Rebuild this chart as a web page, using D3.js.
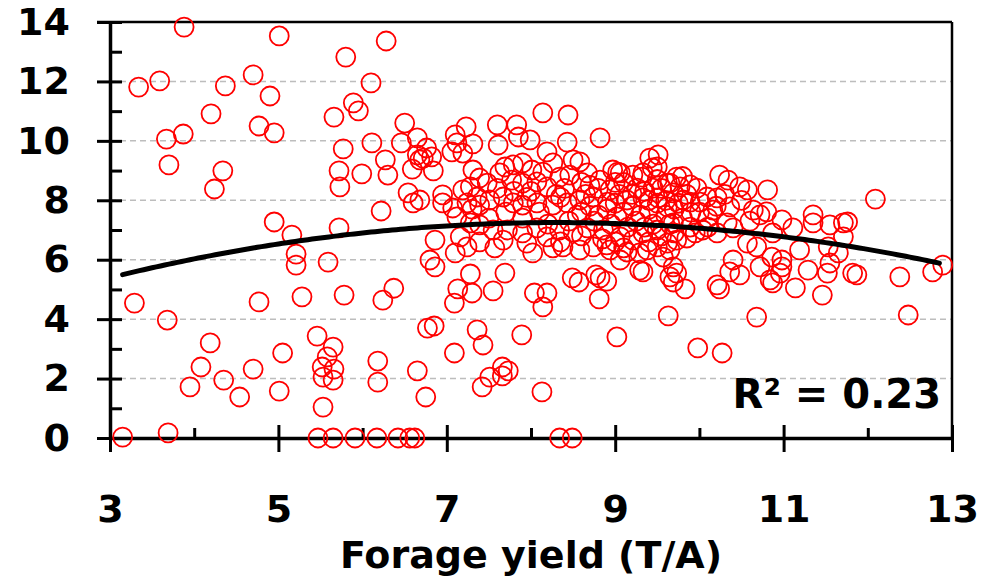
<!DOCTYPE html>
<html lang="en">
<head>
<meta charset="UTF-8">
<title>Forage yield scatter</title>
<script src="https://d3js.org/d3.v7.min.js"></script>
<style>
  body { margin: 0; background: #fff; }
  text { font-family: "DejaVu Sans", Verdana, sans-serif; font-weight: bold; fill: #000; }
</style>
</head>
<body>
<div id="chart"></div>
<script>
// [forage yield, response] pairs
const points = [
  // sparse left part
  [3.88,13.83],[5.01,13.53],[6.28,13.36],[5.80,12.82],[3.59,12.02],[3.34,11.81],[4.37,11.85],[4.70,12.22],
  [6.10,11.95],[4.90,11.51],[5.89,11.28],[5.95,11.01],[5.66,10.80],[4.20,10.91],[4.77,10.50],[4.95,10.27],
  [3.67,10.06],[3.87,10.23],[3.70,9.19],[4.34,8.99],[4.24,8.38],[5.77,9.73],[6.11,9.93],[6.27,9.36],
  [5.72,8.99],[5.99,8.89],[6.30,8.85],[5.73,8.45],[6.22,7.64],[4.95,7.27],[5.16,6.83],[5.72,7.07],
  [6.50,10.60],[6.46,9.93],[5.21,6.19],[5.21,5.82],[5.59,5.92],[3.29,4.54],[3.68,3.97],[4.77,4.58],
  [5.28,4.75],[5.78,4.81],[6.24,4.64],[6.37,5.04],[4.19,3.20],[4.08,2.39],[3.95,1.72],[4.35,1.95],
  [4.54,1.38],[4.70,2.32],[5.05,2.86],[5.01,1.58],[5.46,3.43],[5.65,3.06],[5.58,2.73],[5.52,2.39],
  [5.66,2.32],[5.53,2.05],[5.65,1.95],[5.53,1.04],[6.18,2.59],[6.18,1.88],[3.15,0.03],[3.69,0.17],
  [5.47,0],[5.65,0],[5.91,0],[6.17,0],[6.42,0],[6.56,0],[6.62,0],[8.34,0],[8.49,0],
  // lower middle
  [7.09,2.86],[6.65,2.26],[6.75,1.38],[7.42,1.72],[7.51,2.05],[7.66,2.39],[7.66,2.09],[7.73,2.26],
  [8.13,1.55],[7.36,3.64],[7.43,3.13],[7.89,3.47],[7.09,4.54],[7.13,5.02],[7.30,4.88],[7.55,4.95],
  [8.04,4.88],[8.19,4.88],[8.14,4.41],[8.49,5.39],[8.57,5.25],[8.77,5.49],[8.82,5.39],[8.90,5.28],
  [8.81,4.68],[9.02,3.40],[9.63,4.11],[7.28,5.52],[7.69,5.55],[6.86,5.76],[6.80,5.99],[6.77,3.70],[6.85,3.77],
  // lower right
  [9.98,3.03],[10.27,2.86],[10.68,4.07],[12.48,4.14],[11.46,4.81],[11.14,5.05],[10.87,5.22],[10.84,5.32],
  [9.83,5.02],[9.69,5.25],[10.24,5.02],[10.21,5.15],[10.36,5.59],[10.48,5.49],[10.72,5.76],[10.98,5.76],
  [11.29,5.65],[11.52,5.55],[11.82,5.55],[11.87,5.49],[12.77,5.59],[12.89,5.82],[12.38,5.42],
  // upper right
  [12.09,8.04],[11.71,7.24],[11.76,7.27],[11.55,7.17],[11.35,7.51],[11.35,7.24],[11.11,7.07],[11.19,6.33],
  [11.71,6.77],[11.53,6.43],[11.65,6.23],[11.55,5.89],[10.98,7.34],[10.87,6.90],[10.68,6.43],[10.57,6.56],
  [10.40,5.99],[10.86,6.09],[10.98,5.99],[10.96,5.55],[10.64,7.67],[10.72,7.51],[10.80,7.61],[10.81,8.35],
  [10.57,8.35],[10.48,8.45],[10.34,8.68],[10.24,8.85],[10.16,7.67],[10.36,7.78],[10.33,7.24],[10.40,7.07],
  [10.21,6.90],[10.04,7.00],[10.21,8.08],[10.09,8.11],[10.01,7.94],[9.89,7.94],[9.81,8.01],[9.97,8.41],
  [9.89,8.52],[9.77,8.45],[9.69,8.25],[9.62,8.58],[9.62,7.78],[9.51,8.08],[9.45,8.41],[9.33,8.08],
  [9.14,8.01],[9.26,8.41],[9.32,8.78],[9.44,9.09],[9.51,9.53],[9.41,9.42],[9.03,8.95],[8.94,8.35],
  [8.91,7.94],[9.02,7.44],[8.82,10.10],[9.89,7.10],[9.69,7.24],[9.50,7.00],[9.33,6.90],[9.21,6.66],
  [9.06,6.77],[8.94,6.33],[9.06,5.99],[9.29,5.65],[9.38,6.33],[9.62,6.56],[9.73,6.66],[9.85,6.73],
  [9.57,6.09],[9.69,5.76],[9.73,5.55],
  // central cluster
  [6.65,10.10],[6.76,9.76],[6.65,9.53],[6.72,9.42],[6.68,9.36],[6.82,9.46],[6.59,9.05],[6.84,8.99],
  [6.54,8.25],[6.68,8.01],[6.60,7.91],[6.95,8.18],[7.10,10.20],[7.23,10.47],[7.12,9.93],[7.31,9.90],
  [7.19,9.59],[7.06,9.63],[7.60,10.54],[7.83,10.54],[7.85,10.13],[7.99,10.03],[7.61,9.86],[8.14,10.94],
  [8.44,10.87],[8.43,9.96],[8.19,9.63],[7.31,9.02],[7.39,8.75],[7.28,8.45],[7.48,8.58],[7.19,8.35],
  [6.95,7.91],[7.07,7.74],[7.36,8.11],[7.63,8.92],[7.69,9.12],[7.79,9.19],[7.90,9.26],[8.01,9.02],
  [8.14,8.95],[8.26,9.26],[8.50,9.36],[8.58,9.29],[7.77,8.68],[7.90,8.58],[8.07,8.62],[8.19,8.45],
  [8.34,8.78],[8.46,8.85],[8.67,8.92],[8.82,8.68],[8.97,9.02],[9.06,8.92],[9.21,8.85],[9.33,8.92],
  [9.50,9.12],[9.65,8.58],[9.73,8.78],[8.58,8.01],[8.74,8.11],[8.43,7.91],[8.26,7.84],[8.07,7.91],
  [7.90,7.84],[7.79,7.91],[7.67,8.11],[7.51,8.01],[7.39,7.84],[7.24,7.91],[7.12,7.44],[7.28,7.24],
  [7.39,7.17],[7.55,7.00],[7.72,7.00],[7.90,6.90],[8.07,7.07],[8.19,6.77],[8.34,7.00],[8.50,6.93],
  [8.67,7.07],[8.86,7.00],[6.86,6.66],[7.16,6.77],[7.24,6.43],[7.39,6.60],[7.67,6.66],[7.57,6.40],
  [7.95,6.56],[8.02,6.23],[8.26,6.40],[8.38,6.43],[8.58,6.33],[8.74,6.43],[8.90,6.50],[9.14,6.26],
  [9.29,6.23],[9.50,6.43],[9.65,6.33],[7.10,6.23],[9.33,5.59],[9.65,5.42],
  // densest part
  [8.60,7.60],[8.70,7.80],[8.80,7.50],[8.90,7.70],[9.00,7.90],[9.10,7.60],[9.20,7.80],[9.30,7.50],
  [9.40,7.70],[9.50,7.90],[9.60,7.50],[9.70,7.70],[9.80,7.40],[9.90,7.60],[9.35,8.30],[9.55,8.40],
  [9.45,7.20],[9.25,7.30],[9.15,7.10],[9.65,7.20],[9.75,7.90],[9.85,8.20],[10.00,7.60],[10.10,7.40],
  [10.20,7.80],[8.45,7.30],[8.55,7.50],[8.75,7.30],[8.95,7.20],[9.05,8.20],[9.20,8.20],[9.40,8.00],
  [9.60,8.00],[8.30,8.20],[8.40,8.40],[8.60,8.60],[8.80,8.40],[8.10,7.60],[8.20,7.20],[7.90,7.40],
  [7.70,7.60],[7.50,7.40],[7.30,7.70],[8.00,8.30],[7.80,8.30],[8.65,8.20],[9.10,8.60],[9.50,8.70],
  [9.80,8.80],[10.30,8.20],[10.50,8.00],[10.60,7.30],[10.10,7.10],[9.95,6.90],[9.70,6.90],[9.40,6.60],
  [9.10,6.40],[8.85,6.70],[8.60,6.80],[8.35,6.60],
  [7.60,8.40],[7.95,8.10],[8.35,8.10],[8.70,8.50],[9.00,8.60],[9.35,7.10],[9.55,6.80],[9.00,6.60]
];

const xTicks = [3, 5, 7, 9, 11, 13];
const xMinorTicks = [4, 6, 8, 10, 12];
const yTicks = [0, 2, 4, 6, 8, 10, 12, 14];
const yMinorTicks = [1, 3, 5, 7, 9, 11, 13];
const gridValues = [2, 4, 6, 8, 10, 12];

// quadratic trend as drawn: y = a + b*x + c*x^2
const trendA = 2.70, trendB = 1.096, trendC = -0.066;
const trendFrom = 3.15, trendTo = 12.85;
const rSquaredLabel = "R\u00b2 = 0.23";
const xTitle = "Forage yield (T/A)";

const width = 993;
const height = 581;
const plotLeft = 110, plotRight = 952, plotTop = 22, plotBottom = 438;

const svg = d3.select("#chart")
  .append("svg")
  .attr("width", width)
  .attr("height", height)
  .style("background", "#fff");

const x = d3.scaleLinear().domain([3, 13]).range([plotLeft, plotRight]);
const y = d3.scaleLinear().domain([0, 14]).range([plotBottom, plotTop]);

// dashed gridlines
svg.append("g")
  .selectAll("line")
  .data(gridValues)
  .join("line")
  .attr("x1", plotLeft).attr("x2", plotRight)
  .attr("y1", d => y(d)).attr("y2", d => y(d))
  .attr("stroke", "#bdbdbd")
  .attr("stroke-width", 1.5)
  .attr("stroke-dasharray", "6,4");

// frame top and right
svg.append("line")
  .attr("x1", plotLeft - 13).attr("x2", plotRight)
  .attr("y1", plotTop).attr("y2", plotTop)
  .attr("stroke", "#000").attr("stroke-width", 2.5);
svg.append("line")
  .attr("x1", plotRight).attr("x2", plotRight)
  .attr("y1", plotTop).attr("y2", plotBottom)
  .attr("stroke", "#000").attr("stroke-width", 2.5);

// y axis: major ticks crossing, minor ticks inside
svg.append("g")
  .attr("transform", `translate(${plotLeft},0)`)
  .call(d3.axisLeft(y).tickValues(yTicks).tickSizeInner(13).tickSizeOuter(0).tickPadding(27));
svg.append("g")
  .attr("transform", `translate(${plotLeft},0)`)
  .call(d3.axisRight(y).tickValues(yTicks.concat(yMinorTicks)).tickSize(12).tickFormat(""))
  .call(g => g.select(".domain").remove());

// x axis: major ticks crossing, minor ticks pointing up
const xAxis = svg.append("g")
  .attr("transform", `translate(0,${plotBottom})`)
  .call(d3.axisBottom(x).tickValues(xTicks).tickSizeInner(14).tickSizeOuter(0));
svg.append("g")
  .attr("transform", `translate(0,${plotBottom})`)
  .call(d3.axisTop(x).tickValues(xTicks).tickSize(13).tickFormat(""))
  .call(g => g.select(".domain").remove());
svg.append("g")
  .attr("transform", `translate(0,${plotBottom})`)
  .call(d3.axisTop(x).tickValues(xMinorTicks).tickSize(10).tickFormat(""))
  .call(g => g.select(".domain").remove());

xAxis.selectAll("text").attr("y", 84).attr("dy", null);

svg.selectAll(".tick line").attr("stroke", "#000").attr("stroke-width", 3);
svg.selectAll(".domain").attr("stroke", "#000").attr("stroke-width", 3.5);
svg.selectAll(".tick text")
  .style("font-size", "38px")
  .style("font-family", '"DejaVu Sans", Verdana, sans-serif')
  .style("font-weight", "bold")
  .attr("fill", "#000");

// points
svg.append("g")
  .selectAll("circle")
  .data(points)
  .join("circle")
  .attr("cx", d => x(d[0]))
  .attr("cy", d => y(d[1]))
  .attr("r", 9.5)
  .attr("fill", "none")
  .attr("stroke", "#ff0000")
  .attr("stroke-width", 1.8);

// trend line
const trendX = d3.range(trendFrom, trendTo + 0.001, 0.05);
const line = d3.line()
  .x(d => x(d))
  .y(d => y(trendA + trendB * d + trendC * d * d));
svg.append("path")
  .datum(trendX)
  .attr("d", line)
  .attr("fill", "none")
  .attr("stroke", "#000")
  .attr("stroke-width", 5)
  .attr("stroke-linecap", "round");

// labels
svg.append("text")
  .attr("x", 941).attr("y", 408)
  .attr("text-anchor", "end")
  .style("font-size", "40px")
  .text(rSquaredLabel);

svg.append("text")
  .attr("x", (plotLeft + plotRight) / 2).attr("y", 568)
  .attr("text-anchor", "middle")
  .style("font-size", "38px")
  .text(xTitle);
</script>
</body>
</html>
